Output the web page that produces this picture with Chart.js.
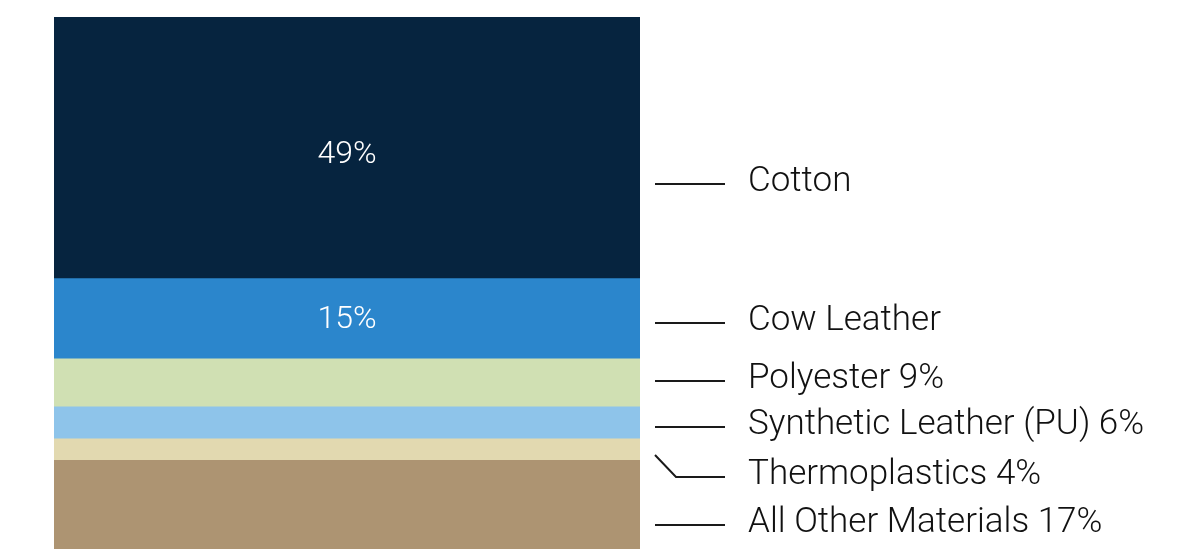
<!DOCTYPE html>
<html>
<head>
<meta charset="utf-8">
<script src="https://cdn.jsdelivr.net/npm/chart.js@4"></script>
<style>
  html, body { margin: 0; padding: 0; background: #ffffff; overflow: hidden; }
  #wrap { width: 1204px; height: 549px; overflow: hidden; }
</style>
</head>
<body>
<div id="wrap"><canvas id="chartCanvas" width="1204" height="551"></canvas></div>
<script>
  // stacked bottom -> top
  const materials = ['All Other Materials', 'Thermoplastics', 'Synthetic Leather (PU)', 'Polyester', 'Cow Leather', 'Cotton'];
  const shares = [17, 4, 6, 9, 15, 49];
  const sideLabels = ['All Other Materials 17%', 'Thermoplastics 4%', 'Synthetic Leather (PU) 6%', 'Polyester 9%', 'Cow Leather', 'Cotton'];
  const innerLabels = ['', '', '', '', '15%', '49%'];
  const colors = ['#ad9472', '#e2d9b0', '#8ec4ea', '#d0e0b3', '#2b86cc', '#06243f'];
  // where each side label sits, in axis units (0-100)
  const labelAt = [4.9, 13.9, 23.2, 31.8, 42.7, 68.7];

  const sideLabelPlugin = {
    id: 'sideLabels',
    afterDatasetsDraw(chart) {
      const ctx = chart.ctx;
      const y = chart.scales.y;
      const area = chart.chartArea;
      ctx.save();

      // values inside the bar
      ctx.font = '300 32px Roboto, sans-serif';
      ctx.fillStyle = '#ffffff';
      ctx.textAlign = 'center';
      ctx.textBaseline = 'middle';
      chart.data.datasets.forEach((ds, i) => {
        if (!innerLabels[i]) return;
        const bar = chart.getDatasetMeta(i).data[0];
        const h = bar.base - bar.y;
        ctx.fillText(innerLabels[i], bar.x, (bar.y + bar.base) / 2 + (h > 200 ? 7 : 1));
      });

      // leader lines + names on the right
      ctx.strokeStyle = '#1a1a1a';
      ctx.lineWidth = 2;
      ctx.font = '300 35px Roboto, sans-serif';
      ctx.fillStyle = '#111111';
      ctx.textAlign = 'left';
      materials.forEach((m, i) => {
        const ly = Math.round(y.getPixelForValue(labelAt[i]));
        ctx.beginPath();
        if (m === 'Thermoplastics') {
          ctx.moveTo(area.right + 15, ly - 22);
          ctx.lineTo(area.right + 36, ly);
        } else {
          ctx.moveTo(area.right + 15, ly);
        }
        ctx.lineTo(area.right + 85, ly);
        ctx.stroke();
        ctx.fillText(sideLabels[i], area.right + 108, ly - 2);
      });
      ctx.restore();
    }
  };

  const ctx = document.getElementById('chartCanvas').getContext('2d');
  const chart = new Chart(ctx, {
    type: 'bar',
    data: {
      labels: ['Materials'],
      datasets: materials.map((m, i) => ({
        label: m,
        data: [shares[i]],
        backgroundColor: colors[i],
        borderWidth: 0,
        barPercentage: 1,
        categoryPercentage: 1
      }))
    },
    options: {
      responsive: false,
      animation: false,
      layout: { padding: { left: 54, right: 564, top: 17, bottom: 0 } },
      plugins: {
        legend: { display: false },
        tooltip: { enabled: false }
      },
      scales: {
        x: { stacked: true, display: false },
        y: { stacked: true, display: false, min: 0, max: 100 }
      }
    },
    plugins: [sideLabelPlugin]
  });
</script>
</body>
</html>
